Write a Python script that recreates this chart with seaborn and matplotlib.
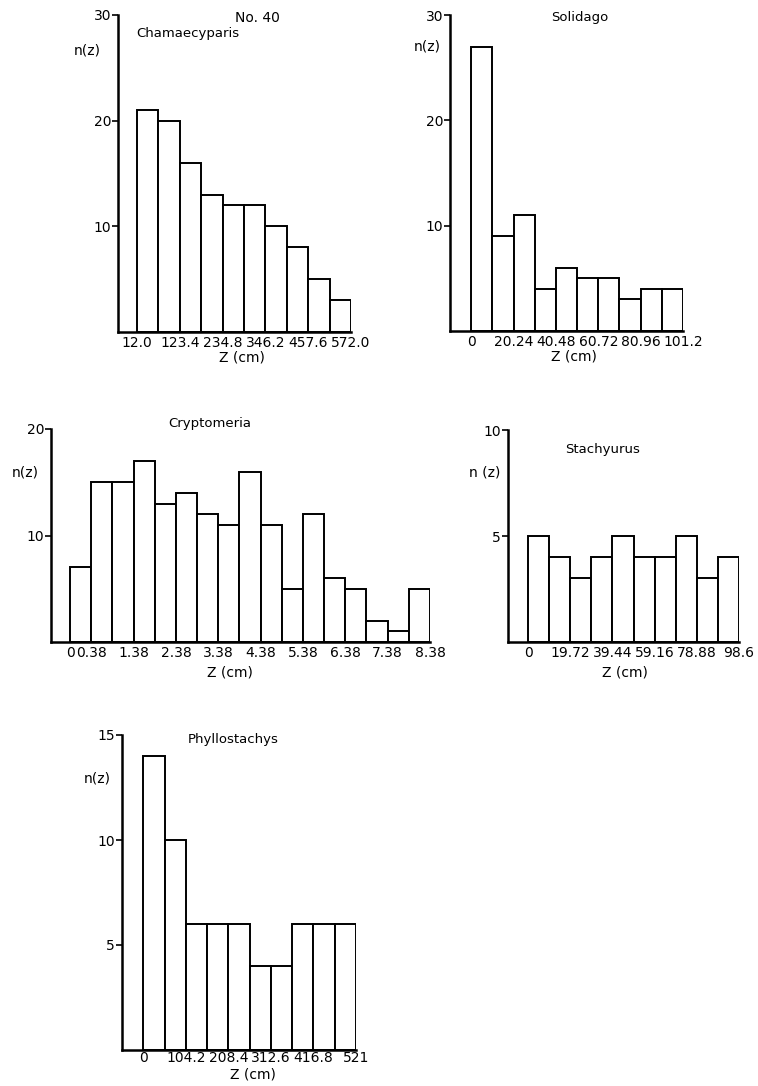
import numpy as np
import seaborn as sns
import matplotlib.pyplot as plt

# bar counts per height class
cham_counts = [21, 20, 16, 13, 12, 12, 10, 8, 5, 3]
cham_ticks = ["12.0", "123.4", "234.8", "346.2", "457.6", "572.0"]

soli_counts = [27, 9, 11, 4, 6, 5, 5, 3, 4, 4]
soli_ticks = ["0", "20.24", "40.48", "60.72", "80.96", "101.2"]

cryp_counts = [7, 15, 15, 17, 13, 14, 12, 11, 16, 11, 5, 12, 6, 5, 2, 1, 5]
cryp_ticks = ["0", "0.38", "1.38", "2.38", "3.38", "4.38", "5.38", "6.38", "7.38", "8.38"]

stac_counts = [5, 4, 3, 4, 5, 4, 4, 5, 3, 4]
stac_ticks = ["0", "19.72", "39.44", "59.16", "78.88", "98.6"]

phyl_counts = [14, 10, 6, 6, 6, 4, 4, 6, 6, 6]
phyl_ticks = ["0", "104.2", "208.4", "312.6", "416.8", "521"]

W, H = 758, 1086

sns.set_theme(style="ticks")
plt.rcParams["font.family"] = ["DejaVu Sans"]
plt.rcParams.update({"text.color": "black", "xtick.color": "black",
                     "ytick.color": "black", "axes.labelcolor": "black"})

fig = plt.figure(figsize=(W / 100, H / 100), dpi=100)
fig.patch.set_facecolor("white")


def add_px_axes(left, top, right, bottom):
    return fig.add_axes([left / W, 1 - bottom / H, (right - left) / W, (bottom - top) / H])


def ftext(x, y, s, ha="center", size=10):
    fig.text(x / W, 1 - y / H, s, ha=ha, va="center", fontsize=size, color="black")


def draw_hist(box, counts, tick_edges, tick_labels, ymax, yticks, gap, xpad=3):
    ax = add_px_axes(*box)
    n = len(counts)
    sns.barplot(x=list(range(n)), y=counts, ax=ax, color="white", saturation=1,
                edgecolor="black", linewidth=1.4, width=1.0)
    ax.set_facecolor("white")
    ax.set_xlim(-0.5 - gap, n - 0.5)
    ax.set_ylim(0, ymax)
    ax.set_xlabel("")
    ax.set_ylabel("")
    ax.set_xticks([e - 0.5 for e in tick_edges])
    ax.set_xticklabels(tick_labels)
    ax.set_yticks(yticks)
    ax.set_yticklabels([str(t) for t in yticks])
    ax.tick_params(axis="x", length=0, pad=xpad, labelsize=10, labelcolor="black")
    ax.tick_params(axis="y", length=4, width=1.2, direction="out", pad=1,
                   labelsize=10, labelcolor="black", color="black")
    sns.despine(ax=ax)
    for side in ("left", "bottom"):
        ax.spines[side].set_linewidth(1.8)
        ax.spines[side].set_color("black")
    return ax


# Chamaecyparis
draw_hist((118, 15, 351, 332), cham_counts, [0, 2, 4, 6, 8, 10], cham_ticks,
          30, [10, 20, 30], 0.89)
ftext(257, 18, "No. 40")
ftext(136, 33, "Chamaecyparis", ha="left", size=9.5)
ftext(87, 50, "n(z)")
ftext(242, 358, "Z (cm)")

# Solidago
draw_hist((450, 15, 683, 331), soli_counts, [0, 2, 4, 6, 8, 10], soli_ticks,
          30, [10, 20, 30], 1.0)
ftext(580, 17, "Solidago", size=9.5)
ftext(427, 47, "n(z)")
ftext(574, 357, "Z (cm)")

# Cryptomeria
draw_hist((51, 429, 430, 642), cryp_counts, [0, 1, 3, 5, 7, 9, 11, 13, 15, 17], cryp_ticks,
          20, [10, 20], 0.9)
ftext(210, 424, "Cryptomeria", size=9.5)
ftext(25, 472, "n(z)")
ftext(230, 673, "Z (cm)")

# Stachyurus
draw_hist((508, 430, 739, 642), stac_counts, [0, 2, 4, 6, 8, 10], stac_ticks,
          10, [5, 10], 0.95)
ftext(603, 449, "Stachyurus", size=9.5)
ftext(485, 472, "n (z)")
ftext(625, 673, "Z (cm)")

# Phyllostachys
draw_hist((122, 735, 356, 1050), phyl_counts, [0, 2, 4, 6, 8, 10], phyl_ticks,
          15, [5, 10, 15], 1.0, xpad=1)
ftext(233, 740, "Phyllostachys", size=9.5)
ftext(97, 778, "n(z)")
ftext(253, 1075, "Z (cm)")

fig.savefig("out.png", dpi=100, facecolor="white")
